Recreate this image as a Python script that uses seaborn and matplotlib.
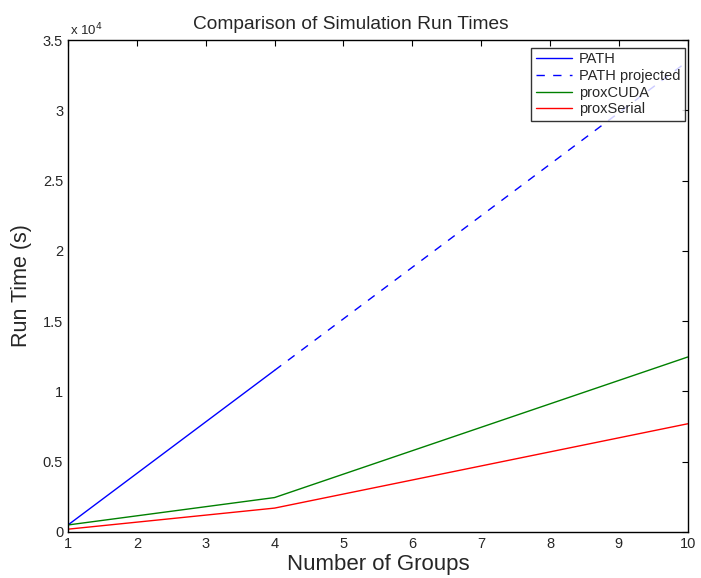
import pandas as pd
import matplotlib
matplotlib.use("Agg")
import matplotlib.pyplot as plt
import seaborn as sns
from matplotlib.ticker import FuncFormatter

# data
groups = [1, 4]
path_times = [500, 11500]
proj_groups = [4, 10]
path_proj_times = [11500, 33500]
cuda_groups = [1, 4, 10]
cuda_times = [500, 2450, 12450]
serial_times = [200, 1700, 7700]

sns.set_style("white")
plt.rcParams["font.family"] = ["Liberation Sans", "DejaVu Sans"]

fig = plt.figure(figsize=(7.01, 5.78), dpi=100)
ax = fig.add_axes([0.097, 0.0796, 0.884, 0.851])

sns.lineplot(x=groups, y=path_times, ax=ax, color="blue", lw=1, label="PATH")
sns.lineplot(x=proj_groups, y=path_proj_times, ax=ax, color="blue", lw=1,
             linestyle=(0, (6, 6)), label="PATH projected")
sns.lineplot(x=cuda_groups, y=cuda_times, ax=ax, color="green", lw=1, label="proxCUDA")
sns.lineplot(x=cuda_groups, y=serial_times, ax=ax, color="red", lw=1, label="proxSerial")

ax.set_xlim(1, 10)
ax.set_ylim(0, 35000)
ax.set_xticks(range(1, 11))
ax.set_yticks([i * 5000 for i in range(8)])
ax.yaxis.set_major_formatter(FuncFormatter(lambda v, p: f"{v / 1e4:g}"))
ax.tick_params(direction="in", top=True, right=True, length=4, width=0.8,
               labelsize=10.5, color="black")
for s in ax.spines.values():
    s.set_color("black")
    s.set_linewidth(1)

ax.text(0.004, 1.003, "x 10$^4$", transform=ax.transAxes, fontsize=9.5,
        ha="left", va="bottom")
ax.set_title("Comparison of Simulation Run Times", fontsize=13.8, pad=8, x=0.457)
ax.set_xlabel("Number of Groups", fontsize=16, labelpad=2)
ax.set_ylabel("Run Time (s)", fontsize=15.5, labelpad=8)

leg = ax.legend(loc="upper right", bbox_to_anchor=(0.995, 0.984), borderaxespad=0,
                fontsize=10.5, frameon=True, fancybox=False,
                handlelength=2.5, handletextpad=0.45, borderpad=0.3,
                labelspacing=0.18)
leg.get_frame().set_edgecolor("black")
leg.get_frame().set_linewidth(1)

fig.savefig("out.png", dpi=100)
